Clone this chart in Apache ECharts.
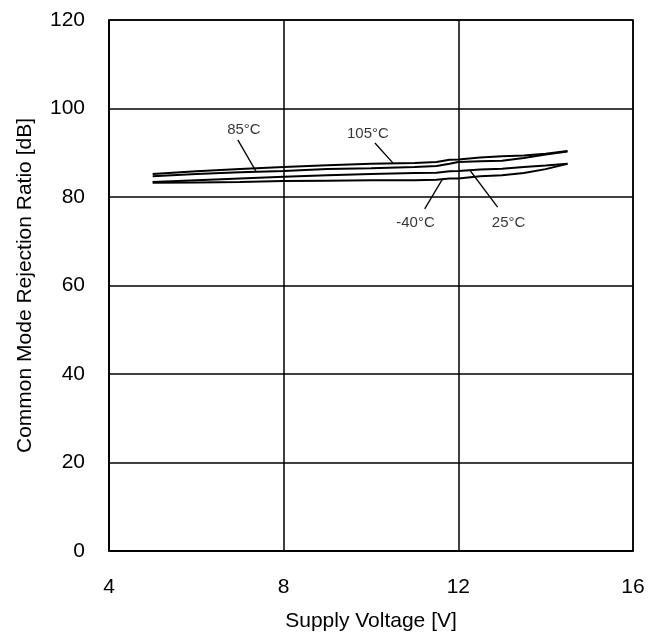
<!DOCTYPE html>
<html>
<head>
<meta charset="utf-8">
<script src="https://cdn.jsdelivr.net/npm/echarts@6/dist/echarts.min.js"></script>
<style>html,body{margin:0;padding:0;background:#fff}#c{width:656px;height:639px}</style>
</head>
<body>
<div id="c"></div>
<script>
const voltages = [5, 6, 7, 8, 9, 10, 11, 11.5, 11.8, 12, 12.5, 13, 13.5, 14, 14.5];
const cmrr105 = [85.2, 85.8, 86.3, 86.8, 87.2, 87.5, 87.7, 87.9, 88.4, 88.5, 88.9, 89.2, 89.4, 89.8, 90.4];
const cmrr85  = [84.7, 85.2, 85.6, 85.9, 86.3, 86.5, 86.8, 87.0, 87.5, 87.9, 88.1, 88.2, 88.8, 89.6, 90.3];
const cmrr25  = [83.4, 83.8, 84.2, 84.6, 84.9, 85.2, 85.4, 85.5, 85.8, 85.9, 86.2, 86.4, 86.8, 87.1, 87.5];
const cmrrM40 = [83.2, 83.3, 83.4, 83.6, 83.7, 83.8, 83.8, 83.9, 84.2, 84.2, 84.7, 84.9, 85.4, 86.3, 87.5];
const xTicks = [4, 8, 12, 16];
const yTicks = [0, 20, 40, 60, 80, 100, 120];
// annotations: label, text position, pointer start, pointer end (data units)
const annotations = [
  { text: '85°C',  at: [7.09, 95.1], from: [6.95, 92.9], to: [7.36, 85.9] },
  { text: '105°C', at: [9.93, 94.2], from: [10.09, 92.2], to: [10.5, 87.7] },
  { text: '-40°C', at: [11.02, 74.1], from: [11.23, 77.3], to: [11.64, 84.1] },
  { text: '25°C',  at: [13.15, 74.1], from: [12.9, 77.7], to: [12.26, 86.1] }
];

const FONT = 'Liberation Sans, Arial, sans-serif';
const pairs = arr => voltages.map((v, i) => [v, arr[i]]);
const lineSeries = (name, arr) => ({
  name, type: 'line', data: pairs(arr), showSymbol: false, smooth: false,
  lineStyle: { color: '#000', width: 2 }, z: 3, silent: true
});

const chart = echarts.init(document.getElementById('c'), null, { renderer: 'canvas' });
const series = [
  lineSeries('105°C', cmrr105),
  lineSeries('85°C', cmrr85),
  lineSeries('25°C', cmrr25),
  lineSeries('-40°C', cmrrM40),
  {
    type: 'line', data: [], silent: true,
    markLine: {
      silent: true, symbol: ['none', 'none'], animation: false,
      lineStyle: { color: '#000', width: 1.3, type: 'solid' },
      label: { show: false },
      data: annotations.map(a => [{ coord: a.from }, { coord: a.to }])
    }
  },
  {
    type: 'scatter', silent: true, symbolSize: 0,
    data: annotations.map(a => ({ value: a.at, name: a.text })),
    label: { show: true, position: 'inside', formatter: p => p.name, color: '#000', fontSize: 15, fontFamily: FONT }
  }
];

chart.setOption({
  animation: false,
  backgroundColor: '#fff',
  grid: { left: 109, right: 23, top: 20, bottom: 88, show: true, borderColor: '#000', borderWidth: 1.5, backgroundColor: 'transparent' },
  xAxis: {
    type: 'value', min: 4, max: 16, interval: 4,
    name: 'Supply Voltage [V]', nameLocation: 'middle', nameGap: 60,
    nameTextStyle: { color: '#000', fontSize: 21, fontFamily: FONT },
    axisLine: { show: true, lineStyle: { color: '#000', width: 1.5 } },
    axisTick: { show: false },
    axisLabel: { color: '#000', fontSize: 21, fontFamily: FONT, margin: 26,
      formatter: v => xTicks.includes(v) ? String(v) : '' },
    splitLine: { show: true, lineStyle: { color: '#000', width: 1.5 } }
  },
  yAxis: {
    type: 'value', min: 0, max: 120, interval: 20,
    name: 'Common Mode Rejection Ratio [dB]', nameLocation: 'middle', nameGap: 73,
    nameTextStyle: { color: '#000', fontSize: 21, fontFamily: FONT },
    axisLine: { show: true, lineStyle: { color: '#000', width: 1.5 } },
    axisTick: { show: false },
    axisLabel: { color: '#000', fontSize: 21, fontFamily: FONT, margin: 24,
      formatter: v => yTicks.includes(v) ? String(v) : '' },
    splitLine: { show: true, lineStyle: { color: '#000', width: 1.5 } }
  },
  series
});
</script>
</body>
</html>
